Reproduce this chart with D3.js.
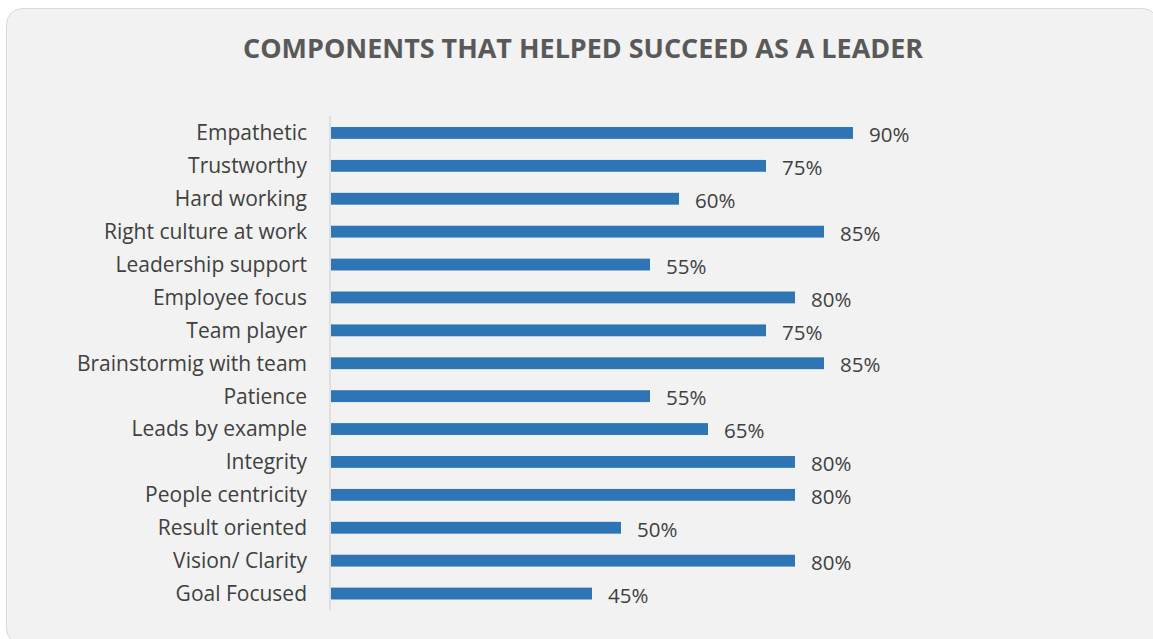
<!DOCTYPE html>
<html>
<head>
<meta charset="utf-8">
<script src="https://cdn.jsdelivr.net/npm/d3@7"></script>
<style>
  body { margin: 0; background: #ffffff; }
</style>
</head>
<body>
<div id="chart"></div>
<script>
// data
const categories = ["Empathetic", "Trustworthy", "Hard working", "Right culture at work",
  "Leadership support", "Employee focus", "Team player", "Brainstormig with team",
  "Patience", "Leads by example", "Integrity", "People centricity",
  "Result oriented", "Vision/ Clarity", "Goal Focused"];
const values = [0.90, 0.75, 0.60, 0.85, 0.55, 0.80, 0.75, 0.85, 0.55, 0.65, 0.80, 0.80, 0.50, 0.80, 0.45];

const W = 1153, H = 639;
const svg = d3.select("#chart").append("svg")
    .attr("width", W)
    .attr("height", H);

// card background
svg.append("rect")
    .attr("x", 6.5).attr("y", 8.5)
    .attr("width", 1152).attr("height", 636)
    .attr("rx", 16)
    .attr("fill", "#f2f2f2")
    .attr("stroke", "#d9d9d9")
    .attr("stroke-width", 1);

// title
svg.append("text")
    .attr("x", 583)
    .attr("y", 58)
    .attr("text-anchor", "middle")
    .attr("font-family", "'Open Sans', sans-serif")
    .attr("font-weight", "bold")
    .attr("font-size", 27)
    .attr("fill", "#595959")
    .attr("textLength", 680)
    .attr("lengthAdjust", "spacingAndGlyphs")
    .text("COMPONENTS THAT HELPED SUCCEED AS A LEADER");

// scales
const x0 = 331;
const x = d3.scaleLinear().domain([0, 1]).range([x0, x0 + 580]);
const y = d3.scaleBand()
    .domain(categories)
    .range([116.5, 610])
    .paddingInner(0.64)
    .paddingOuter(0.32);

// axis line
svg.append("line")
    .attr("x1", 330).attr("x2", 330)
    .attr("y1", 116).attr("y2", 610)
    .attr("stroke", "#d9d9d9")
    .attr("stroke-width", 1.5);

// bars
svg.append("g")
    .selectAll("rect")
    .data(values)
    .join("rect")
    .attr("x", x(0))
    .attr("y", (d, i) => y(categories[i]))
    .attr("width", d => x(d) - x(0))
    .attr("height", y.bandwidth())
    .attr("fill", "#2e75b6");

// category labels
svg.append("g")
    .selectAll("text")
    .data(categories)
    .join("text")
    .attr("x", 307)
    .attr("y", d => y(d) + y.bandwidth() / 2)
    .attr("dy", "0.35em")
    .attr("text-anchor", "end")
    .attr("font-family", "'Open Sans', sans-serif")
    .attr("font-size", 21)
    .attr("fill", "#404040")
    .text(d => d);

// value labels
svg.append("g")
    .selectAll("text")
    .data(values)
    .join("text")
    .attr("x", d => x(d) + 16)
    .attr("y", (d, i) => y(categories[i]) + y.bandwidth() / 2 + 2)
    .attr("dy", "0.35em")
    .attr("font-family", "'Open Sans', sans-serif")
    .attr("font-size", 20.5)
    .attr("fill", "#404040")
    .text(d => d3.format(".0%")(d));
</script>
</body>
</html>
